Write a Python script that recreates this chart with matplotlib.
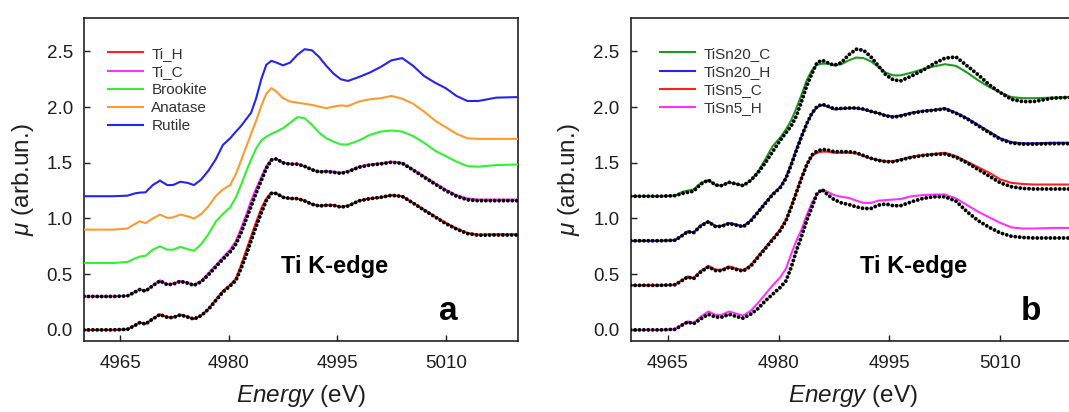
import matplotlib
matplotlib.use("Agg")
import matplotlib.pyplot as plt

plt.rcParams['font.family'] = ['Liberation Sans', 'DejaVu Sans']
plt.rcParams['mathtext.fontset'] = 'custom'
plt.rcParams['mathtext.it'] = 'Liberation Sans:italic'
plt.rcParams['mathtext.rm'] = 'Liberation Sans'

# ---------------- data ----------------
energy = [4960, 4964, 4966, 4967, 4967.7, 4968.5, 4969.5, 4970.5, 4971.5, 4972.3,
          4973.3, 4974.3, 4975.2, 4976.2, 4977.2, 4978.2, 4979.2, 4980.2, 4981, 4981.7,
          4982.4, 4983.1, 4983.8, 4984.5, 4985.2, 4985.9, 4986.6, 4987.5, 4988.5, 4989.5,
          4990.5, 4991.5, 4992.5, 4993.5, 4994.5, 4995.5, 4996.5, 4998, 4999.5, 5001,
          5002.5, 5004, 5005.5, 5007, 5008.5, 5010, 5011.5, 5013, 5014.5, 5017, 5020]

# panel a
ti_h = [0.000, 0.000, 0.005, 0.040, 0.068, 0.053, 0.100, 0.140, 0.115, 0.112,
        0.136, 0.118, 0.098, 0.130, 0.190, 0.270, 0.350, 0.405, 0.460, 0.580,
        0.710, 0.840, 0.970, 1.090, 1.180, 1.232, 1.225, 1.190, 1.180, 1.180,
        1.160, 1.130, 1.115, 1.120, 1.120, 1.105, 1.115, 1.160, 1.180, 1.190,
        1.210, 1.200, 1.140, 1.080, 1.020, 0.960, 0.910, 0.870, 0.855, 0.858, 0.858]
ti_h_dots = [0.000, 0.000, 0.005, 0.038, 0.065, 0.052, 0.098, 0.138, 0.113, 0.110,
             0.134, 0.116, 0.097, 0.128, 0.185, 0.262, 0.340, 0.395, 0.445, 0.550,
             0.670, 0.800, 0.930, 1.050, 1.160, 1.225, 1.225, 1.190, 1.180, 1.178,
             1.158, 1.128, 1.112, 1.118, 1.118, 1.102, 1.112, 1.158, 1.178, 1.190,
             1.208, 1.198, 1.138, 1.075, 1.015, 0.955, 0.905, 0.865, 0.850, 0.852, 0.852]
ti_c = [0.300, 0.300, 0.305, 0.340, 0.365, 0.350, 0.400, 0.445, 0.410, 0.415,
        0.440, 0.425, 0.405, 0.440, 0.510, 0.580, 0.650, 0.720, 0.800, 0.910,
        1.030, 1.160, 1.270, 1.370, 1.470, 1.530, 1.535, 1.500, 1.490, 1.490,
        1.470, 1.440, 1.420, 1.425, 1.420, 1.410, 1.425, 1.465, 1.485, 1.495,
        1.510, 1.500, 1.440, 1.380, 1.320, 1.260, 1.210, 1.180, 1.170, 1.170, 1.170]
ti_c_dots = [0.300, 0.300, 0.305, 0.338, 0.362, 0.348, 0.396, 0.440, 0.406, 0.410,
             0.436, 0.420, 0.400, 0.432, 0.495, 0.565, 0.635, 0.700, 0.770, 0.870,
             0.990, 1.110, 1.230, 1.340, 1.450, 1.525, 1.535, 1.500, 1.488, 1.488,
             1.468, 1.438, 1.418, 1.422, 1.415, 1.405, 1.420, 1.460, 1.480, 1.490,
             1.505, 1.495, 1.435, 1.372, 1.310, 1.250, 1.200, 1.168, 1.160, 1.160, 1.160]
brookite = [0.600, 0.600, 0.610, 0.640, 0.658, 0.665, 0.720, 0.750, 0.720, 0.720,
            0.745, 0.725, 0.710, 0.770, 0.860, 0.970, 1.040, 1.100, 1.190, 1.300,
            1.420, 1.530, 1.630, 1.700, 1.735, 1.760, 1.780, 1.810, 1.860, 1.910,
            1.900, 1.840, 1.770, 1.720, 1.690, 1.665, 1.665, 1.700, 1.750, 1.780,
            1.790, 1.780, 1.740, 1.680, 1.610, 1.560, 1.510, 1.470, 1.465, 1.480, 1.485]
anatase = [0.900, 0.900, 0.910, 0.950, 0.975, 0.958, 1.000, 1.035, 1.005, 1.010,
           1.035, 1.020, 1.000, 1.040, 1.110, 1.200, 1.260, 1.300, 1.400, 1.520,
           1.640, 1.760, 1.880, 2.010, 2.120, 2.170, 2.140, 2.080, 2.050, 2.040,
           2.030, 2.020, 2.005, 1.990, 2.005, 2.015, 2.010, 2.050, 2.070, 2.080,
           2.100, 2.075, 2.030, 1.960, 1.880, 1.820, 1.760, 1.720, 1.715, 1.715, 1.715]
rutile = [1.200, 1.200, 1.205, 1.225, 1.232, 1.235, 1.300, 1.340, 1.300, 1.300,
          1.330, 1.320, 1.300, 1.350, 1.430, 1.530, 1.660, 1.720, 1.780, 1.830,
          1.890, 1.950, 2.080, 2.250, 2.380, 2.415, 2.400, 2.375, 2.400, 2.470,
          2.520, 2.510, 2.450, 2.370, 2.300, 2.250, 2.235, 2.270, 2.310, 2.360,
          2.420, 2.440, 2.370, 2.280, 2.220, 2.170, 2.100, 2.055, 2.055, 2.085, 2.090]

# panel b
tisn5_h = [0.000, 0.000, 0.005, 0.050, 0.077, 0.062, 0.120, 0.165, 0.135, 0.135,
           0.165, 0.145, 0.128, 0.170, 0.240, 0.320, 0.400, 0.470, 0.550, 0.680,
           0.800, 0.900, 1.030, 1.140, 1.220, 1.260, 1.240, 1.210, 1.195, 1.185,
           1.160, 1.140, 1.140, 1.160, 1.165, 1.170, 1.175, 1.200, 1.210, 1.215,
           1.215, 1.180, 1.120, 1.060, 1.010, 0.960, 0.920, 0.910, 0.910, 0.915, 0.915]
tisn5_h_dots = [0.000, 0.000, 0.005, 0.045, 0.070, 0.055, 0.100, 0.140, 0.115, 0.115,
                0.140, 0.120, 0.105, 0.140, 0.190, 0.260, 0.320, 0.380, 0.440, 0.560,
                0.710, 0.840, 0.980, 1.100, 1.225, 1.260, 1.215, 1.170, 1.140, 1.125,
                1.105, 1.090, 1.090, 1.120, 1.130, 1.115, 1.115, 1.150, 1.180, 1.195,
                1.195, 1.155, 1.060, 0.980, 0.920, 0.870, 0.840, 0.830, 0.825, 0.825, 0.825]
tisn5_c = [0.400, 0.400, 0.405, 0.450, 0.480, 0.465, 0.530, 0.575, 0.540, 0.540,
           0.570, 0.550, 0.535, 0.580, 0.660, 0.740, 0.820, 0.900, 0.990, 1.110,
           1.240, 1.370, 1.480, 1.560, 1.590, 1.600, 1.600, 1.590, 1.590, 1.590,
           1.585, 1.560, 1.540, 1.525, 1.513, 1.515, 1.530, 1.555, 1.570, 1.580,
           1.590, 1.560, 1.510, 1.460, 1.410, 1.350, 1.320, 1.310, 1.305, 1.305, 1.305]
tisn5_c_dots = [0.400, 0.400, 0.405, 0.445, 0.475, 0.460, 0.522, 0.565, 0.532, 0.532,
                0.562, 0.542, 0.528, 0.570, 0.650, 0.730, 0.810, 0.890, 0.980, 1.100,
                1.230, 1.360, 1.480, 1.570, 1.605, 1.620, 1.615, 1.600, 1.600, 1.600,
                1.590, 1.565, 1.540, 1.522, 1.510, 1.510, 1.525, 1.550, 1.565, 1.575,
                1.580, 1.550, 1.500, 1.440, 1.380, 1.320, 1.285, 1.270, 1.265, 1.265, 1.265]
tisn20_h = [0.800, 0.800, 0.805, 0.850, 0.885, 0.875, 0.940, 0.975, 0.930, 0.935,
            0.960, 0.945, 0.930, 0.980, 1.060, 1.140, 1.220, 1.280, 1.370, 1.490,
            1.620, 1.740, 1.850, 1.940, 2.000, 2.020, 2.005, 1.980, 1.985, 1.990,
            1.990, 1.980, 1.960, 1.945, 1.925, 1.915, 1.925, 1.950, 1.965, 1.975,
            1.990, 1.950, 1.900, 1.840, 1.780, 1.720, 1.685, 1.675, 1.675, 1.680, 1.680]
tisn20_h_dots = [0.800, 0.800, 0.805, 0.848, 0.882, 0.872, 0.935, 0.970, 0.926, 0.930,
                 0.955, 0.940, 0.926, 0.975, 1.055, 1.135, 1.215, 1.275, 1.360, 1.480,
                 1.610, 1.735, 1.850, 1.945, 2.005, 2.025, 2.010, 1.985, 1.988, 1.992,
                 1.992, 1.982, 1.962, 1.945, 1.922, 1.910, 1.920, 1.945, 1.962, 1.972,
                 1.985, 1.945, 1.895, 1.832, 1.770, 1.712, 1.678, 1.668, 1.668, 1.672, 1.672]
tisn20_c = [1.200, 1.200, 1.205, 1.240, 1.250, 1.260, 1.320, 1.345, 1.300, 1.295,
            1.325, 1.310, 1.296, 1.340, 1.420, 1.530, 1.650, 1.725, 1.800, 1.880,
            1.990, 2.110, 2.240, 2.330, 2.380, 2.390, 2.390, 2.375, 2.385, 2.420,
            2.445, 2.440, 2.410, 2.360, 2.310, 2.285, 2.285, 2.310, 2.340, 2.365,
            2.385, 2.370, 2.310, 2.240, 2.180, 2.130, 2.090, 2.080, 2.080, 2.085, 2.090]
tisn20_c_dots = [1.200, 1.200, 1.205, 1.225, 1.235, 1.245, 1.310, 1.345, 1.300, 1.295,
                 1.325, 1.310, 1.295, 1.340, 1.410, 1.500, 1.600, 1.700, 1.770, 1.830,
                 1.920, 2.050, 2.190, 2.300, 2.400, 2.420, 2.400, 2.375, 2.400, 2.470,
                 2.520, 2.510, 2.450, 2.370, 2.290, 2.245, 2.235, 2.280, 2.330, 2.390,
                 2.440, 2.450, 2.370, 2.290, 2.200, 2.130, 2.070, 2.050, 2.050, 2.080, 2.090]

labels_a = ['Ti_H', 'Ti_C', 'Brookite', 'Anatase', 'Rutile']
labels_b = ['TiSn20_C', 'TiSn20_H', 'TiSn5_C', 'TiSn5_H']
xticks = [4965, 4980, 4995, 5010]
yticks = [0.0, 0.5, 1.0, 1.5, 2.0, 2.5]

# ---------------- style ----------------
RED = '#ff2020'
MAG = '#ff33ff'
LGREEN = '#33f033'
ORANGE = '#ff9a30'
BLUE = '#2424f0'
DGREEN = '#1f9a1f'
TXT = '#1e1e1e'
LW = 1.5
DOT_LW = 2.8

fig = plt.figure(figsize=(10.69, 4.12), dpi=100)
ax_a = fig.add_axes([0.0786, 0.1723, 0.406, 0.784])
ax_b = fig.add_axes([0.590, 0.1723, 0.415, 0.784])


def dots(ax, y):
    ax.plot(energy, y, color='black', lw=DOT_LW, linestyle=(0, (0.01, 1.12)),
            dash_capstyle='round', zorder=5)


# panel a
ax_a.plot(energy, ti_h, color=RED, lw=LW, label=labels_a[0], zorder=3)
ax_a.plot(energy, ti_c, color=MAG, lw=LW, label=labels_a[1], zorder=3)
ax_a.plot(energy, brookite, color=LGREEN, lw=LW, label=labels_a[2], zorder=3)
ax_a.plot(energy, anatase, color=ORANGE, lw=LW, label=labels_a[3], zorder=3)
ax_a.plot(energy, rutile, color=BLUE, lw=LW, label=labels_a[4], zorder=3)
dots(ax_a, ti_h_dots)
dots(ax_a, ti_c_dots)

# panel b
ax_b.plot(energy, tisn20_c, color=DGREEN, lw=LW, label=labels_b[0], zorder=3)
ax_b.plot(energy, tisn20_h, color=BLUE, lw=LW, label=labels_b[1], zorder=3)
ax_b.plot(energy, tisn5_c, color=RED, lw=LW, label=labels_b[2], zorder=3)
ax_b.plot(energy, tisn5_h, color=MAG, lw=LW, label=labels_b[3], zorder=3)
dots(ax_b, tisn20_c_dots)
dots(ax_b, tisn20_h_dots)
dots(ax_b, tisn5_c_dots)
dots(ax_b, tisn5_h_dots)

for ax, tx, lx in [(ax_a, 0.578, 0.055), (ax_b, 0.637, 0.066)]:
    ax.set_xlim(4960, 5020)
    ax.set_ylim(-0.1, 2.8)
    ax.set_xticks(xticks)
    ax.set_yticks(yticks)
    ax.set_xticklabels([str(t) for t in xticks])
    ax.set_yticklabels(['%.1f' % t for t in yticks])
    ax.tick_params(direction='in', length=4, width=1.0, colors=TXT,
                   labelsize=13.5)
    ax.tick_params(axis='x', pad=10)
    ax.tick_params(axis='y', pad=8)
    for sp in ax.spines.values():
        sp.set_linewidth(1.2)
        sp.set_color('#222222')
    ax.set_xlabel(r'$Energy$ (eV)', fontsize=17.5, color=TXT, labelpad=8)
    ax.set_ylabel(r'$\mu$ (arb.un.)', fontsize=17.5, color=TXT, labelpad=8)
    ax.text(tx, 0.23, 'Ti K-edge', transform=ax.transAxes, fontsize=17,
            fontweight='bold', ha='center', va='center', color='black')
    leg = ax.legend(loc='upper left', bbox_to_anchor=(lx, 0.911), frameon=False,
                    fontsize=11, handlelength=2.3, handletextpad=0.55,
                    labelspacing=0.27, borderpad=0, borderaxespad=0)
    for t in leg.get_texts():
        t.set_color('#333333')

ax_a.text(0.84, 0.065, 'a', transform=ax_a.transAxes, fontsize=24,
          fontweight='bold', ha='center', va='baseline')
ax_b.text(0.9025, 0.065, 'b', transform=ax_b.transAxes, fontsize=24,
          fontweight='bold', ha='center', va='baseline')

fig.savefig('out.png', dpi=100)
